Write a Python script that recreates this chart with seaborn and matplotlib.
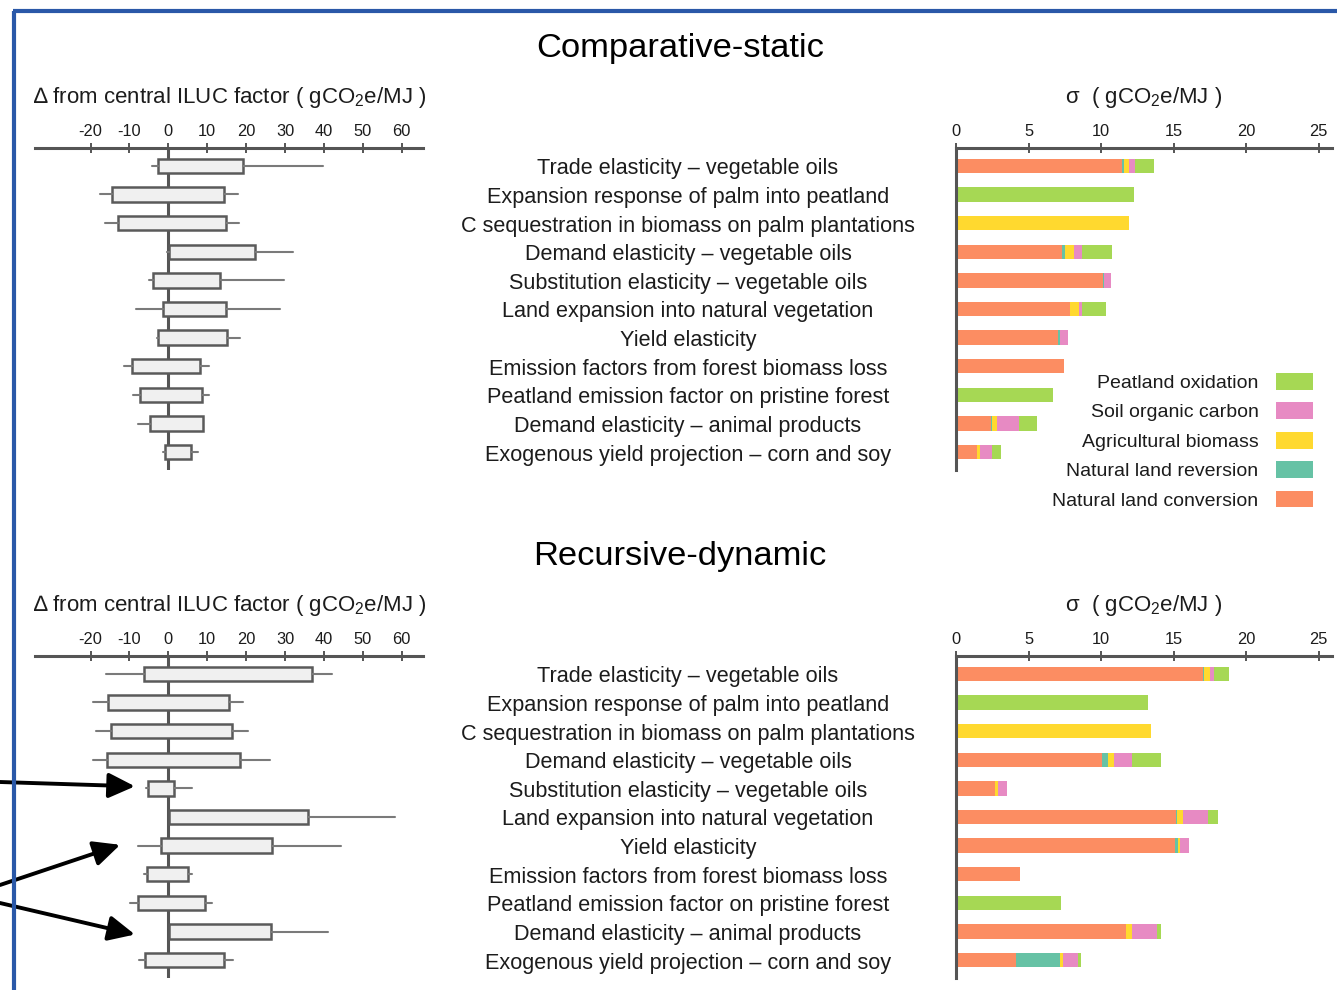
import numpy as np
import pandas as pd
import matplotlib
matplotlib.use("Agg")
import matplotlib.pyplot as plt
from matplotlib.patches import Patch
from matplotlib.lines import Line2D
from matplotlib.transforms import blended_transform_factory, ScaledTranslation
import seaborn as sns

# ---------------------------------------------------------------- data
factors = [
    "Trade elasticity – vegetable oils",
    "Expansion response of palm into peatland",
    "C sequestration in biomass on palm plantations",
    "Demand elasticity – vegetable oils",
    "Substitution elasticity – vegetable oils",
    "Land expansion into natural vegetation",
    "Yield elasticity",
    "Emission factors from forest biomass loss",
    "Peatland emission factor on pristine forest",
    "Demand elasticity – animal products",
    "Exogenous yield projection – corn and soy",
]

components = [
    "Natural land conversion",
    "Natural land reversion",
    "Agricultural biomass",
    "Soil organic carbon",
    "Peatland oxidation",
]

# Comparative-static: change from central ILUC factor (gCO2e/MJ)
cs_low = [-4.3, -17.7, -16.3, -0.4, -4.9, -8.4, -3.0, -11.3, -9.0, -7.7, -1.5]
cs_q1 = [-2.7, -14.4, -13.0, 0.2, -3.9, -1.5, -2.7, -9.3, -7.4, -4.8, -0.8]
cs_q3 = [19.3, 14.4, 14.7, 22.4, 13.2, 14.7, 15.1, 8.2, 8.6, 8.8, 5.7]
cs_high = [39.8, 18.0, 18.2, 32.1, 29.7, 28.8, 18.4, 10.4, 10.4, 8.8, 7.5]

# Comparative-static: standard deviation by emission component (gCO2e/MJ)
cs_conversion = [11.45, 0, 0, 7.29, 10.10, 7.87, 7.06, 7.47, 0, 2.41, 1.47]
cs_reversion = [0.10, 0, 0, 0.23, 0.13, 0, 0.12, 0, 0, 0.10, 0]
cs_agri_biomass = [0.39, 0, 11.94, 0.64, 0, 0.64, 0, 0, 0, 0.30, 0.19]
cs_soil_carbon = [0.39, 0, 0, 0.53, 0.46, 0.21, 0.52, 0, 0, 1.51, 0.82]
cs_peat = [1.31, 12.30, 0, 2.07, 0, 1.65, 0, 0, 6.72, 1.27, 0.65]

# Recursive-dynamic: change from central ILUC factor (gCO2e/MJ)
rd_low = [-16.0, -19.3, -18.5, -19.5, -5.7, 0.2, -7.9, -6.3, -9.8, 0.2, -7.5]
rd_q1 = [-6.3, -15.4, -14.7, -15.8, -5.2, 0.2, -2.0, -5.6, -7.8, 0.2, -5.9]
rd_q3 = [37.0, 15.6, 16.5, 18.5, 1.5, 35.8, 26.6, 5.1, 9.3, 26.3, 14.4]
rd_high = [42.2, 19.3, 20.4, 26.1, 6.2, 58.4, 44.3, 6.1, 11.2, 41.1, 16.7]

# Recursive-dynamic: standard deviation by emission component (gCO2e/MJ)
rd_conversion = [17.04, 0, 0, 10.07, 2.71, 15.16, 15.13, 4.42, 0, 11.71, 4.14]
rd_reversion = [0.09, 0, 0, 0.39, 0, 0.05, 0.14, 0, 0, 0, 3.01]
rd_agri_biomass = [0.35, 0, 13.41, 0.42, 0.16, 0.43, 0.16, 0, 0, 0.41, 0.23]
rd_soil_carbon = [0.30, 0, 0, 1.22, 0.67, 1.75, 0.65, 0, 0, 1.73, 1.06]
rd_peat = [1.01, 13.27, 0, 2.00, 0, 0.69, 0, 0, 7.22, 0.25, 0.18]

delta_ticks = [-20, -10, 0, 10, 20, 30, 40, 50, 60]
sigma_ticks = [0, 5, 10, 15, 20, 25]

# ---------------------------------------------------------------- style
sns.set_theme(style="white")
plt.rcParams["font.family"] = ["Liberation Sans", "DejaVu Sans"]
plt.rcParams["mathtext.fontset"] = "custom"
plt.rcParams["mathtext.rm"] = "Liberation Sans"
plt.rcParams["mathtext.it"] = "Liberation Sans:italic"
plt.rcParams["axes.unicode_minus"] = False

set2 = sns.color_palette("Set2")
comp_colors = [set2[1], set2[0], set2[5], set2[3], set2[4]]  # same order as components

AXIS = "#555555"
TEXT = "#1c1c1c"
W, H = 1337, 990

fig = plt.figure(figsize=(W / 100, H / 100), dpi=100)
fig.patch.set_facecolor("white")

n = len(factors)
ylims = (n - 1 + 0.617, -0.617)


def px_axes(left, top, width, height):
    return fig.add_axes([left / W, 1 - (top + height) / H, width / W, height / H])


def style_top_axis(ax, ticks):
    ax.xaxis.tick_top()
    ax.set_xticks(ticks)
    ax.set_xticklabels([str(t) for t in ticks])
    ax.tick_params(axis="x", direction="inout", length=7, width=1.4, color=AXIS,
                   labelsize=11.8, labelcolor=TEXT, pad=3)
    ax.tick_params(axis="y", left=False, labelleft=False)
    ax.set_xlabel("")
    ax.set_ylabel("")
    for side in ("right", "bottom"):
        ax.spines[side].set_visible(False)
    ax.spines["top"].set_color(AXIS)
    ax.spines["top"].set_linewidth(2.2)


def draw_spread(ax, low, q1, q3, high):
    stats = [dict(whislo=lo, q1=a, med=0.0, q3=b, whishi=hi, fliers=[])
             for lo, a, b, hi in zip(low, q1, q3, high)]
    ax.axvline(0, color=AXIS, lw=2.2, zorder=1)
    ax.bxp(stats, positions=list(range(n)), widths=0.5, orientation="horizontal",
           showcaps=False, showfliers=False, patch_artist=True, manage_ticks=False,
           boxprops=dict(facecolor="#f0f0f0", edgecolor="#5a5a5a", linewidth=1.8),
           whiskerprops=dict(color="#7a7a7a", linewidth=1.5),
           medianprops=dict(linewidth=0))
    ax.set_xlim(-34.3, 65.5)
    ax.set_ylim(*ylims)
    style_top_axis(ax, delta_ticks)
    ax.spines["left"].set_visible(False)


def draw_sigma(ax, parts):
    cum = np.cumsum(np.array(parts, dtype=float), axis=0)
    for k in reversed(range(len(parts))):
        df = pd.DataFrame({"factor": factors, "sigma": cum[k]})
        sns.barplot(data=df, x="sigma", y="factor", orient="h", color=comp_colors[k],
                    saturation=1, width=0.5, linewidth=0, errorbar=None, ax=ax)
    ax.set_xlim(0, 25.9)
    ax.set_ylim(*ylims)
    style_top_axis(ax, sigma_ticks)
    ax.spines["left"].set_color(AXIS)
    ax.spines["left"].set_linewidth(2.2)


def factor_labels(ax):
    trans = blended_transform_factory(fig.transFigure, ax.transData)
    trans = trans + ScaledTranslation(0, -3 / 100, fig.dpi_scale_trans)
    for i, name in enumerate(factors):
        ax.text(688 / W, i, name, transform=trans, ha="center", va="center",
                fontsize=15.6, color=TEXT)


def panel(top, title, low, q1, q3, high, parts):
    fig.text(680 / W, 1 - (top - 100) / H, title, ha="center", va="center",
             fontsize=24.8, color="black")
    fig.text(33 / W, 1 - (top - 51) / H,
             "\u2206 from central ILUC factor ( gCO$_2$e/MJ )",
             ha="left", va="center", fontsize=16, color=TEXT)
    fig.text(1144 / W, 1 - (top - 51) / H, "\u03c3  ( gCO$_2$e/MJ )",
             ha="center", va="center", fontsize=16, color=TEXT)
    ax_l = px_axes(35, top, 388, 322)
    draw_spread(ax_l, low, q1, q3, high)
    ax_r = px_axes(956, top, 375.7, 322)
    draw_sigma(ax_r, parts)
    factor_labels(ax_l)
    return ax_l, ax_r


ax_cs_l, ax_cs_r = panel(148, "Comparative-static", cs_low, cs_q1, cs_q3, cs_high,
                         [cs_conversion, cs_reversion, cs_agri_biomass, cs_soil_carbon, cs_peat])
ax_rd_l, ax_rd_r = panel(656, "Recursive-dynamic", rd_low, rd_q1, rd_q3, rd_high,
                         [rd_conversion, rd_reversion, rd_agri_biomass, rd_soil_carbon, rd_peat])

# legend, listed from the outermost stacked component inward
order = [4, 3, 2, 1, 0]
handles = [Patch(facecolor=comp_colors[k], edgecolor="none") for k in order]
ax_cs_r.legend(handles, [components[k] for k in order], loc="upper right",
               bbox_to_anchor=(1313 / W, 1 - 373 / H), bbox_transform=fig.transFigure,
               frameon=False, markerfirst=False, fontsize=14, handlelength=1.9,
               handleheight=0.95, handletextpad=0.9, labelspacing=0.53,
               borderpad=0, borderaxespad=0, labelcolor=TEXT)

# arrows highlighting factors in the recursive-dynamic panel
arrow_kw = dict(arrowstyle="-|>,head_length=0.8,head_width=0.38", color="black",
                lw=2.8, shrinkA=0, shrinkB=0, mutation_scale=20)
for tip, tail in [((-8.6, 3.93), (0, 208)), ((-12.4, 5.97), (0, 105)), ((-8.6, 9.1), (0, 87))]:
    ax_rd_l.annotate("", xy=tip, xycoords="data", xytext=tail, textcoords="figure pixels",
                     arrowprops=arrow_kw, annotation_clip=False)

# blue frame around the figure
frame = "#2a58a8"
fig.add_artist(Line2D([14 / W, 14 / W], [0, 1 - 11 / H], transform=fig.transFigure,
                      color=frame, lw=3, solid_capstyle="butt"))
fig.add_artist(Line2D([12.5 / W, 1], [1 - 11 / H, 1 - 11 / H], transform=fig.transFigure,
                      color=frame, lw=3, solid_capstyle="butt"))

fig.savefig("out.png", dpi=100)
